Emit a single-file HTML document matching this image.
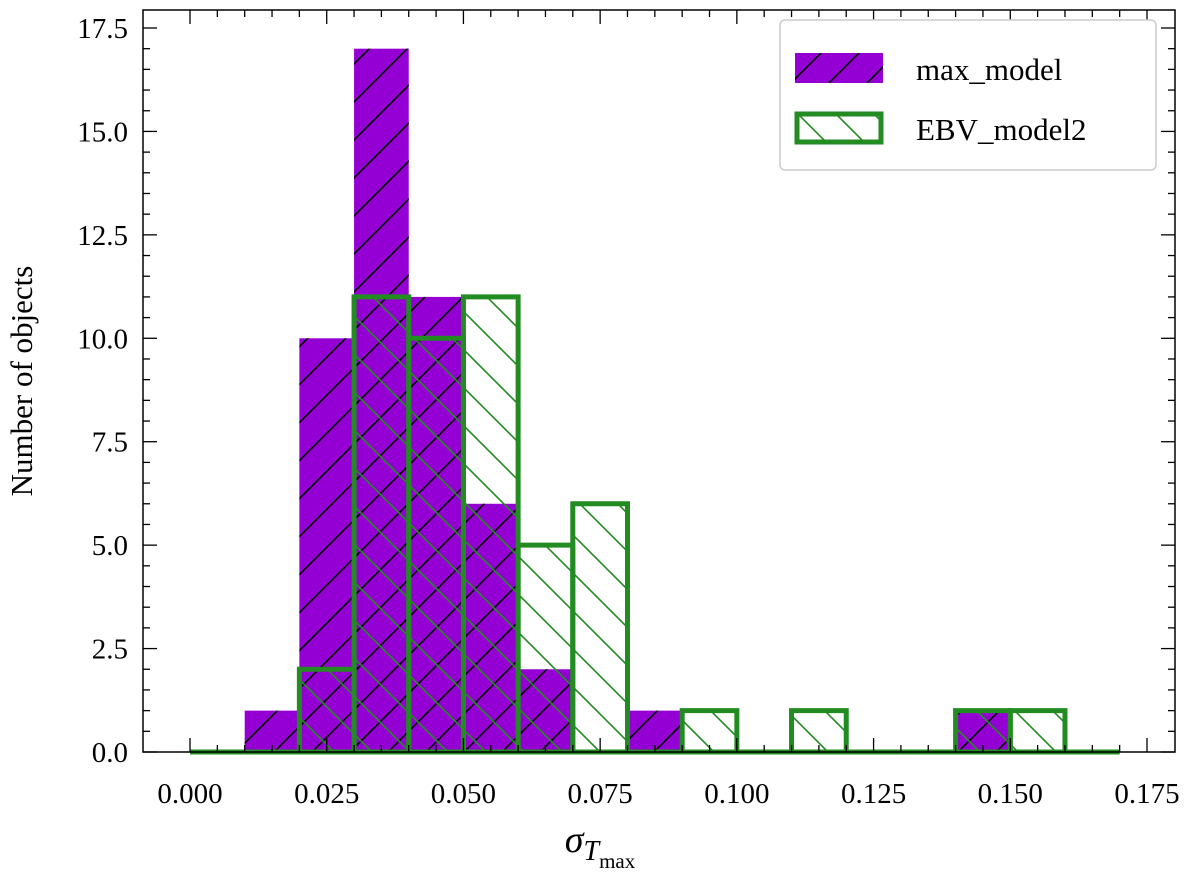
<!DOCTYPE html>
<html><head><meta charset="utf-8"><style>
body{margin:0;background:#fff}
svg text{font-family:"Liberation Serif",serif;fill:#000}
</style></head><body>
<svg id="chart" width="1200" height="872" xmlns="http://www.w3.org/2000/svg">
<defs>
<pattern id="hp" patternUnits="userSpaceOnUse" width="38" height="38"><path d="M-5,43 L43,-5 M-24,24 L24,-24 M14,62 L62,14" stroke="#000" stroke-width="1.6"/></pattern>
<pattern id="hg" patternUnits="userSpaceOnUse" width="38" height="38"><path d="M-5,-5 L43,43 M-24,14 L24,62 M14,-24 L62,24" stroke="#228b22" stroke-width="1.6"/></pattern>
</defs>
<g id="plot"></g>
</svg>
<script>
const binEdges=[0,0.01,0.02,0.03,0.04,0.05,0.06,0.07,0.08,0.09,0.10,0.11,0.12,0.13,0.14,0.15,0.16,0.17];
const maxModel=[0,1,10,17,11,6,2,0,1,0,0,0,0,0,1,0,0];
const ebvModel2=[0,0,2,11,10,11,5,6,0,1,0,1,0,0,1,1,0];
const xTicks=[0,0.025,0.05,0.075,0.1,0.125,0.15,0.175];
const xTickLabels=["0.000","0.025","0.050","0.075","0.100","0.125","0.150","0.175"];
const yTicks=[0,2.5,5,7.5,10,12.5,15,17.5];
const yTickLabels=["0.0","2.5","5.0","7.5","10.0","12.5","15.0","17.5"];
const L=143,R=1175,T=10,B=752;
const X=v=>190+v*(1147-190)/0.175;
const Y=v=>752-v*(752-28)/17.5;
const g=document.getElementById('plot');
const NS="http://www.w3.org/2000/svg";
function mk(t,a,p){const e=document.createElementNS(NS,t);for(const k in a)e.setAttribute(k,a[k]);(p||g).appendChild(e);return e;}
// purple bars
maxModel.forEach((v,i)=>{if(!v)return;
 const x0=X(binEdges[i]),x1=X(binEdges[i+1]);
 const r=mk('rect',{x:x0,y:Y(v),width:x1-x0,height:Y(0)-Y(v),fill:'#9400d3'});
 
 
 const h=mk('rect',{x:x0,y:Y(v),width:x1-x0,height:Y(0)-Y(v),fill:'url(#hp)'});
 
 
});
// green hatch fill
ebvModel2.forEach((v,i)=>{if(!v)return;
 const x0=X(binEdges[i]),x1=X(binEdges[i+1]);
 const r=mk('rect',{x:x0,y:Y(v),width:x1-x0,height:Y(0)-Y(v),fill:'url(#hg)'});
 
 
});
// green outlines per bar
ebvModel2.forEach((v,i)=>{
 const x0=X(binEdges[i]),x1=X(binEdges[i+1]);
 const p=mk('path',{d:`M${x0},${Y(0)} L${x0},${Y(v)} L${x1},${Y(v)} L${x1},${Y(0)} Z`,fill:'none',stroke:'#228b22','stroke-width':5,'stroke-linejoin':'miter'});
 
 
});
// axes frame
const fr=mk('rect',{x:L,y:T,width:R-L,height:B-T,fill:'none',stroke:'#000','stroke-width':1.5});


// x ticks
for(let v=0;v<=0.1751;v+=0.005){const x=X(v);const major=Math.abs(v/0.025-Math.round(v/0.025))<1e-6;const len=major?14:7;
 mk('line',{x1:x,y1:B,x2:x,y2:B-len,stroke:'#000','stroke-width':1.3});
 mk('line',{x1:x,y1:T,x2:x,y2:T+len,stroke:'#000','stroke-width':1.3});}
xTicks.forEach((v,i)=>{const t=mk('text',{x:X(v),y:803,'font-size':29,'text-anchor':'middle'});t.textContent=xTickLabels[i];
 
 });
for(let v=0;v<=17.51;v+=0.5){const y=Y(v);const major=Math.abs(v/2.5-Math.round(v/2.5))<1e-6;const len=major?14:7;
 mk('line',{x1:L,y1:y,x2:L+len,y2:y,stroke:'#000','stroke-width':1.3});
 mk('line',{x1:R,y1:y,x2:R-len,y2:y,stroke:'#000','stroke-width':1.3});}
yTicks.forEach((v,i)=>{const t=mk('text',{x:128,y:Y(v)+10,'font-size':29,'text-anchor':'end'});t.textContent=yTickLabels[i];
 
 });
// axis titles
const yt=mk('text',{x:32,y:381,'font-size':31,'text-anchor':'middle',transform:'rotate(-90 32 381)'});yt.textContent='Number of objects';


const xt=mk('text',{x:600,y:852,'font-size':38,'font-style':'italic','text-anchor':'middle'});


xt.innerHTML='σ<tspan font-size="28" dy="8">T</tspan><tspan font-size="21" font-style="normal" dy="8">max</tspan>';
// legend
const lg=mk('rect',{x:780,y:20,width:376,height:150,rx:5,fill:'#fff',stroke:'#ccc','stroke-width':1.5});


const l1=mk('rect',{x:795,y:53,width:88,height:30,fill:'#9400d3'});


mk('rect',{x:795,y:53,width:88,height:30,fill:'url(#hp)'});
const t1=mk('text',{x:916,y:80,'font-size':31});t1.textContent='max_model';


mk('rect',{x:797,y:114,width:84,height:28,fill:'url(#hg)'});
const l2=mk('rect',{x:797,y:114,width:84,height:28,fill:'none',stroke:'#228b22','stroke-width':5});


const t2=mk('text',{x:916,y:140,'font-size':31});t2.textContent='EBV_model2';


</script>
</body></html>
